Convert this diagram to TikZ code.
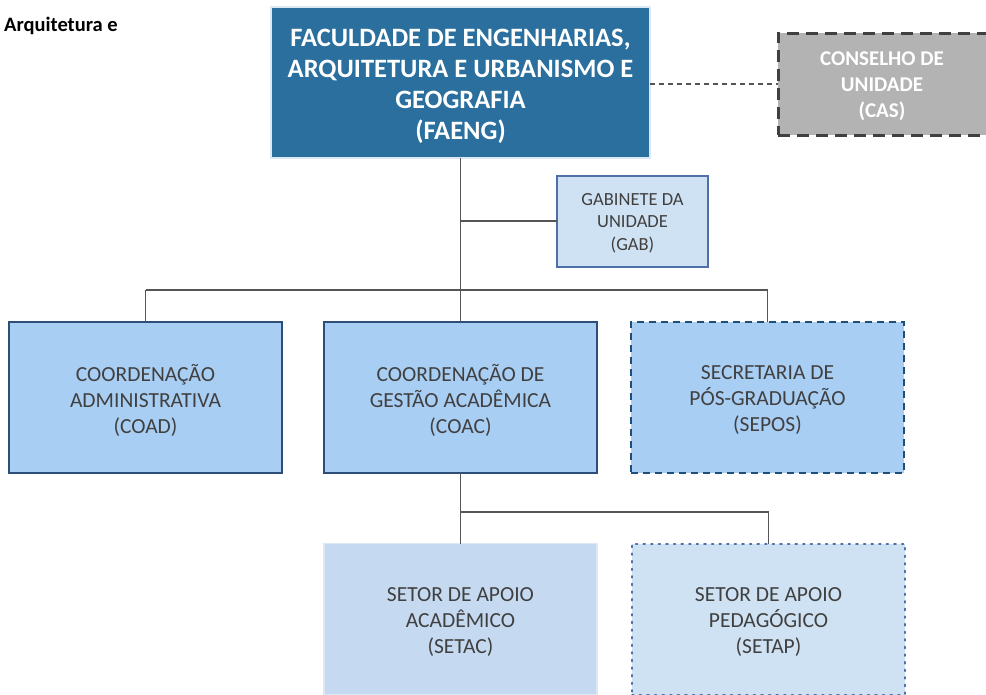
\documentclass[tikz,border=0pt]{standalone}
\usepackage{fontspec}
\setmainfont{Carlito}
\definecolor{faengfill}{HTML}{2A6F9E}
\definecolor{faengline}{HTML}{DCE9F5}
\definecolor{casfill}{HTML}{B3B3B3}
\definecolor{casline}{HTML}{404040}
\definecolor{gabfill}{HTML}{CFE2F3}
\definecolor{gabline}{HTML}{4F6FA8}
\definecolor{coordfill}{HTML}{A9CEF4}
\definecolor{coordline}{HTML}{2C4E79}
\definecolor{seposline}{HTML}{1F4E79}
\definecolor{setacfill}{HTML}{C5DAF1}
\definecolor{setacline}{HTML}{DCE8F5}
\definecolor{txtgray}{HTML}{404040}
\definecolor{conn}{HTML}{555555}
\tikzset{
  box/.style={rectangle, inner sep=0pt, outer sep=0pt},
  txt/.style={inner sep=0pt, align=center},
  midbox/.style={box, minimum width=273pt, minimum height=151pt},
  midtxt/.style={txt, text=txtgray, font=\fontsize{21.5}{26}\selectfont},
  conline/.style={draw=conn, line width=1.7pt},
}
\begin{document}
\begin{tikzpicture}[x=1pt,y=-1pt]
\useasboundingbox (0,0) rectangle (986,694);
% top
\node[box, fill=faengfill, draw=faengline, line width=2.5pt, minimum width=379pt, minimum height=151pt] (faeng) at (460.5,82.5) {};
\node[txt, text=white, font=\fontsize{26.5}{31}\selectfont\bfseries] (faengt) at ([yshift=-4pt]faeng.center)
  {FACULDADE DE ENGENHARIAS,\\ARQUITETURA E URBANISMO E\\GEOGRAFIA\\(FAENG)};
\node[box, fill=casfill, draw=casline, line width=3pt, dash pattern=on 12pt off 7pt, minimum width=216pt, minimum height=102pt] (cas) at (886,84) {};
\node[txt, text=white, font=\fontsize{21}{26}\selectfont\bfseries] (cast) at ([xshift=-4pt,yshift=-2pt]cas.center)
  {CONSELHO DE\\UNIDADE\\(CAS)};
\node[box, fill=gabfill, draw=gabline, line width=2pt, minimum width=151pt, minimum height=91pt] (gab) at (632.5,221) {};
\node[txt, text=txtgray, font=\fontsize{18.5}{22.5}\selectfont] (gabt) at ([yshift=-2pt]gab.center)
  {GABINETE DA\\UNIDADE\\(GAB)};
% second row
\node[midbox, fill=coordfill, draw=coordline, line width=2.5pt] (coad) at (145.5,397.5) {};
\node[midtxt] (coadt) at ([yshift=-2.5pt]coad.center) {COORDENAÇÃO\\ADMINISTRATIVA\\(COAD)};
\node[midbox, fill=coordfill, draw=coordline, line width=2.5pt] (coac) at (460.5,397.5) {};
\node[midtxt] (coact) at ([yshift=-2.5pt]coac.center) {COORDENAÇÃO DE\\GESTÃO ACADÊMICA\\(COAC)};
\node[midbox, fill=coordfill, draw=seposline, line width=2.5pt, dash pattern=on 7pt off 5pt] (sepos) at (767.5,397.5) {};
\node[midtxt] (sepost) at ([yshift=-2.5pt]sepos.center) {SECRETARIA DE\\PÓS-GRADUAÇÃO\\(SEPOS)};
% third row
\node[midbox, fill=setacfill, draw=setacline, line width=1.5pt] (setac) at (460.5,619) {};
\node[midtxt] (setact) at ([yshift=-3pt]setac.center) {SETOR DE APOIO\\ACADÊMICO\\(SETAC)};
\node[midbox, fill=gabfill, draw=gabline, line width=2pt, dash pattern=on 1.6pt off 6pt, line cap=round] (setap) at (768.5,619) {};
\node[midtxt] (setapt) at ([yshift=-3pt]setap.center) {SETOR DE APOIO\\PEDAGÓGICO\\(SETAP)};
% label
\node[anchor=base west, inner sep=0pt, font=\fontsize{20.5}{24}\selectfont\bfseries] (lbl) at (4,31) {Arquitetura e};
% connectors
\coordinate (j1) at (faeng.south |- 290,290);
\coordinate (jg) at (faeng.south |- gab.west);
\coordinate (jl) at (coad.north |- j1);
\coordinate (jr) at (sepos.north |- j1);
\coordinate (j2) at (coac.south |- 512,512);
\coordinate (j2r) at (setap.north |- j2);
\draw[draw=conn, line width=1.3pt, dash pattern=on 5pt off 4pt] (faeng.east |- cas.west) -- (cas.west);
\draw[conline] (faeng.south) -- (j1);
\draw[conline] (jg) -- (gab.west);
\draw[conline] (jl) -- (jr);
\draw[conline] (jl) -- (coad.north);
\draw[conline] (j1) -- (coac.north);
\draw[conline] (jr) -- (sepos.north);
\draw[conline] (coac.south) -- (j2);
\draw[conline] (j2) -- (j2r);
\draw[conline] (j2) -- (setac.north);
\draw[conline] (j2r) -- (setap.north);
\end{tikzpicture}
\end{document}
